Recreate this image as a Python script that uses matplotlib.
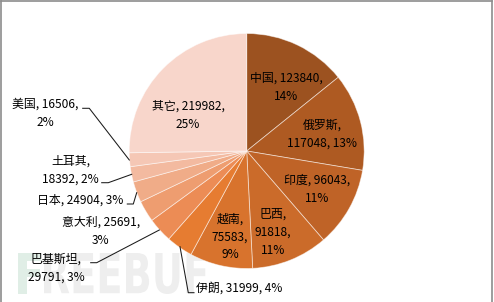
import matplotlib
matplotlib.use("Agg")
import matplotlib.pyplot as plt
from matplotlib.textpath import TextPath
from matplotlib.patches import PathPatch
from matplotlib.font_manager import FontProperties
from matplotlib.transforms import Affine2D
from matplotlib.lines import Line2D

plt.rcParams['font.family'] = ['Noto Sans CJK SC', 'DejaVu Sans']

# ---- data ----
names = ['中国', '俄罗斯', '印度', '巴西', '越南', '伊朗', '巴基斯坦', '意大利', '日本', '土耳其', '美国', '其它']
values = [123840, 117048, 96043, 91818, 75583, 31999, 29791, 25691, 24904, 18392, 16506, 219982]
colors = ['#9C5220', '#AE5A22', '#BF6327', '#CB6B2A', '#D8732D', '#E67C31',
          '#EC8C55', '#EE9D70', '#F0AC88', '#F3BAA0', '#F5C7B5', '#F8D6CB']

W, H = 494, 302
total = sum(values)
pcts = [round(v / total * 100) for v in values]

# label layout: line-break style per label and pixel centre of the text block
styles = ['a', 'b', 'a', 'c', 'c', 'd', 'b', 'a', 'd', 'b', 'a', 'a']
label_pos = [(286, 87), (322, 134), (317, 189.5), (273, 232.5), (230, 237),
             (196, 288), (56, 268), (101, 231), (80, 200.5), (70.5, 170), (45, 113), (188, 115.5)]


def make_label(n, v, p, s):
    if s == 'a':
        return f"{n}, {v},\n{p}%"
    if s == 'b':
        return f"{n},\n{v}, {p}%"
    if s == 'c':
        return f"{n},\n{v},\n{p}%"
    return f"{n}, {v}, {p}%"


fig = plt.figure(figsize=(W / 100, H / 100), dpi=100)
ax = fig.add_axes([0, 0, 1, 1])
ax.set_xlim(0, W)
ax.set_ylim(0, H)
ax.axis('off')


def Y(y):
    return H - y


# watermark (behind everything)
def box_text(s, x0, x1, y0, y1, color):
    tp = TextPath((0, 0), s, size=1, prop=FontProperties(family='DejaVu Sans', weight='bold'))
    ext = tp.get_extents()
    tr = (Affine2D().translate(-ext.x0, -ext.y0)
          .scale((x1 - x0) / ext.width, (y1 - y0) / ext.height)
          .translate(x0, Y(y1)))
    ax.add_patch(PathPatch(tr.transform_path(tp), facecolor=color, edgecolor='none', zorder=0))


box_text('F', 18, 41, 253, 294, '#E0EEE6')
box_text('REEBUF', 44, 206, 253, 294, '#EEEEEE')

cx, cy, r = 246.7, Y(151), 117.5
wedges, _ = ax.pie(values, colors=colors, startangle=90, counterclock=False,
                   center=(cx, cy), radius=r,
                   wedgeprops=dict(edgecolor=(1, 1, 1, 0.55), linewidth=0.6))
for w in wedges:
    w.set_zorder(2)
ax.set_xlim(0, W)
ax.set_ylim(0, H)

for n, v, p, s, (x, y) in zip(names, values, pcts, styles, label_pos):
    ha = 'left' if n == '伊朗' else 'center'
    ax.text(x, Y(y), make_label(n, v, p, s), ha=ha, va='center', ma='center',
            fontsize=8.6, color='black', linespacing=1.5, zorder=5)

# leader lines (pixel coords)
leaders = [
    [(180, 246.7), (188.3, 292.7), (194, 292.7)],      # 伊朗
    [(90.7, 262.7), (96.7, 262.7), (159.3, 230)],      # 巴基斯坦
    [(127.3, 204), (133.3, 204), (136.7, 192.7)],      # 日本
    [(101.7, 182.7), (108.3, 182.7), (131.7, 174.3)],  # 土耳其
    [(82.7, 108.3), (89.3, 108.3), (129.3, 160)],      # 美国
]
for pts in leaders:
    ax.plot([p[0] for p in pts], [Y(p[1]) for p in pts], color='#1a1a1a', lw=0.75, zorder=4)

# chart frame (top, left, right)
for xs, ys in [((1, 492), (1, 1)), ((1, 1), (1, 302)), ((492, 492), (1, 302))]:
    ax.add_line(Line2D(xs, [Y(v) for v in ys], color='#8C8C8C', lw=1.2, zorder=6))

fig.savefig('out.png', dpi=100)
